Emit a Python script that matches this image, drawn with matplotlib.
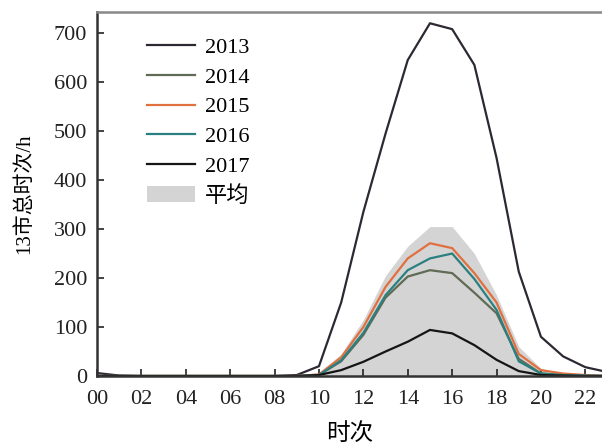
import numpy as np
import matplotlib.pyplot as plt

plt.rcParams['font.family'] = ['Liberation Serif', 'Noto Sans CJK SC']
plt.rcParams['axes.unicode_minus'] = False

# 时次 0-23
hours = np.arange(24)

y2013 = [6, 1, 0, 0, 0, 0, 0, 0, 0, 2, 20, 150, 335, 495, 645, 720, 708, 635, 445, 213, 80, 40, 18, 8]
y2014 = [0, 0, 0, 0, 0, 0, 0, 0, 0, 0, 2, 30, 84, 160, 203, 216, 210, 170, 128, 35, 5, 2, 1, 0]
y2015 = [0, 0, 0, 0, 0, 0, 0, 0, 0, 0, 3, 38, 100, 182, 240, 271, 261, 210, 150, 45, 12, 5, 2, 0]
y2016 = [0, 0, 0, 0, 0, 0, 0, 0, 0, 0, 2, 32, 88, 165, 216, 240, 250, 198, 135, 30, 5, 2, 1, 0]
y2017 = [0, 0, 0, 0, 0, 0, 0, 0, 0, 0, 2, 12, 29, 50, 70, 94, 87, 63, 33, 10, 2, 1, 0, 0]
avg_band = [2, 1, 0, 0, 0, 0, 0, 0, 0, 1, 8, 45, 115, 205, 265, 305, 305, 250, 165, 60, 15, 6, 3, 1]

series = [
    ("2013", y2013, "#2e2833"),
    ("2014", y2014, "#5f6b55"),
    ("2015", y2015, "#e07040"),
    ("2016", y2016, "#2a8080"),
    ("2017", y2017, "#151515"),
]

fig = plt.figure(figsize=(6.02, 4.44), dpi=100)
ax = fig.add_axes([97 / 602, 1 - 376 / 444, 1 - 97 / 602, (376 - 12) / 444])

band = ax.fill_between(hours, 0, avg_band, color="#d4d4d4", lw=0, label="平均")
handles = []
for name, vals, col in series:
    ln, = ax.plot(hours, vals, color=col, lw=1.6, label=name)
    handles.append(ln)
handles.append(band)

ax.set_xlim(0, 22.75)
ax.set_ylim(0, 743)
ax.set_xticks(range(0, 23, 2))
ax.set_xticklabels([f"{h:02d}" for h in range(0, 23, 2)])
ax.set_yticks(range(0, 701, 100))
ax.tick_params(direction="in", length=5, width=1.2, labelsize=16, colors="#222222")
ax.tick_params(axis="x", pad=10)
ax.tick_params(axis="y", pad=7)

for side in ("left", "bottom"):
    ax.spines[side].set_linewidth(1.8)
    ax.spines[side].set_color("#333333")
ax.spines["top"].set_linewidth(1.8)
ax.spines["top"].set_color("#888888")
ax.spines["right"].set_visible(False)

ax.set_xlabel("时次", fontsize=17, labelpad=10)
ax.set_ylabel("13市总时次/h", fontsize=15, labelpad=14)

ax.legend(handles=handles, loc="upper left", bbox_to_anchor=(0.059, 0.985),
          frameon=False, fontsize=16, handlelength=2.15, handletextpad=0.45,
          labelspacing=0.41)

fig.savefig("out.png", dpi=100)
